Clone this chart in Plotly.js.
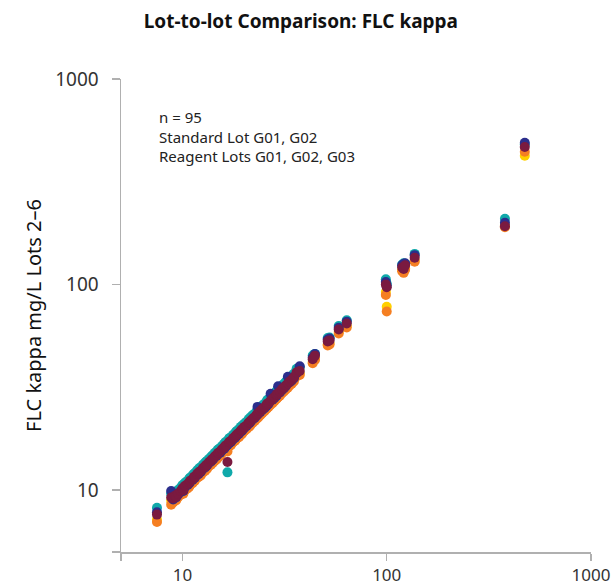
<!DOCTYPE html>
<html>
<head>
<meta charset="utf-8">
<script src="https://cdn.plot.ly/plotly-3.0.1.min.js"></script>
<style>html,body{margin:0;padding:0;background:#fff;}#chart{width:614px;height:586px;}</style>
</head>
<body>
<div id="chart"></div>
<script>
// Standard lot values (x) — FLC kappa mg/L
const standardLot = [
  7.5, 8.8, 9.0, 9.2, 9.3, 9.5, 9.8, 10.0, 10.1, 10.3,
  10.6, 10.8, 10.9, 11.2, 11.4, 11.5, 11.8, 12.0, 12.1, 12.3,
  12.6, 12.9, 13.0, 13.2, 13.5, 13.8, 13.9, 14.1, 14.4, 14.7,
  14.9, 15.0, 15.3, 15.6, 16.0, 16.1, 16.3, 16.6, 16.9, 17.0,
  17.3, 17.7, 18.1, 18.3, 18.5, 18.9, 19.3, 19.5, 19.7, 20.1,
  20.6, 21.1, 21.3, 21.6, 22.1, 22.6, 23.1, 23.3, 23.6, 24.1,
  24.6, 25.2, 25.8, 26.0, 26.4, 27.0, 27.6, 28.2, 28.8, 29.0,
  29.4, 30.0, 30.7, 31.4, 32.1, 32.8, 33.5, 34.3, 35.1, 36.2,
  37.5, 43.4, 44.5, 51.4, 52.5, 58.2, 63.7, 99, 100, 119,
  121, 123, 137, 379, 474
];

const lot2 = [ // yellow
  7.2, 8.9, 8.8, 9.1, 9.0, 9.3, 9.6, 9.9, 9.7, 10.2,
  10.4, 10.6, 10.8, 11.0, 11.3, 11.3, 11.6, 11.7, 11.9, 12.0,
  12.4, 12.6, 12.8, 12.9, 13.3, 13.5, 13.7, 13.8, 14.2, 14.4,
  14.6, 14.7, 14.9, 15.3, 15.6, 15.8, 16.0, 16.0, 16.6, 16.7,
  16.9, 17.4, 17.7, 17.9, 18.1, 18.4, 18.9, 19.0, 19.3, 19.7,
  20.1, 20.7, 20.8, 21.1, 21.6, 22.0, 22.6, 22.8, 23.1, 23.6,
  24.1, 24.5, 25.2, 25.5, 25.8, 26.4, 27.0, 27.5, 28.1, 28.4,
  28.7, 29.3, 30.1, 30.7, 31.4, 32.0, 32.8, 33.5, 34.3, 36.3,
  36.9, 42.0, 43.6, 51.3, 51.9, 58.7, 62.8, 92, 78, 118,
  116, 120, 131, 194, 423
];

const lot3 = [ // orange
  7.0, 8.5, 8.7, 9.0, 8.9, 9.2, 9.5, 9.7, 9.6, 10.0,
  10.2, 10.4, 10.6, 10.8, 11.1, 11.1, 11.5, 11.6, 11.7, 11.8,
  12.2, 12.4, 12.6, 12.7, 13.1, 13.3, 13.5, 13.6, 13.9, 14.1,
  14.4, 14.5, 14.7, 15.1, 15.4, 15.6, 15.8, 15.4, 16.3, 16.4,
  16.6, 17.1, 17.4, 17.7, 17.9, 18.1, 18.6, 18.7, 19.0, 19.4,
  19.8, 20.3, 20.4, 20.8, 21.3, 21.7, 22.3, 22.4, 22.7, 23.2,
  23.7, 24.2, 24.8, 25.1, 25.4, 26.0, 26.5, 27.1, 27.7, 28.0,
  28.3, 28.8, 29.6, 30.2, 30.9, 31.5, 32.3, 32.9, 33.8, 35.7,
  36.3, 41.4, 43.0, 50.5, 51.1, 57.8, 61.8, 89, 74, 116,
  114, 118, 129, 190, 443
];

const lot4 = [ // teal
  8.2, 9.6, 9.5, 9.8, 9.7, 10.0, 10.3, 10.6, 10.4, 10.9,
  11.1, 11.4, 11.5, 11.8, 12.0, 12.1, 12.5, 12.6, 12.8, 12.9,
  13.3, 13.6, 13.7, 13.9, 14.2, 14.5, 14.6, 14.8, 15.2, 15.4,
  15.7, 15.8, 16.0, 16.4, 16.8, 16.9, 17.2, 12.2, 17.8, 17.9,
  18.1, 18.6, 18.9, 19.3, 19.4, 19.8, 20.3, 20.4, 20.7, 21.1,
  21.5, 22.2, 22.2, 22.7, 23.2, 23.6, 24.2, 24.5, 24.8, 25.3,
  25.8, 26.3, 27.0, 27.4, 27.7, 28.3, 28.9, 29.5, 30.2, 30.5,
  30.8, 31.4, 32.2, 32.9, 33.7, 34.3, 35.2, 35.9, 36.8, 38.9,
  39.6, 45.2, 46.0, 54.9, 55.3, 62.8, 67.0, 106, 101, 125,
  127, 126, 141, 209, 480
];

const lot5 = [ // dark blue
  7.8, 9.9, 9.0, 9.3, 9.2, 9.5, 9.8, 10.1, 9.9, 10.4,
  10.6, 10.8, 11.0, 11.2, 11.5, 11.5, 11.9, 12.0, 12.2, 12.3,
  12.7, 12.9, 13.1, 13.2, 13.6, 13.8, 14.0, 14.1, 14.5, 14.7,
  15.0, 15.1, 15.2, 15.6, 15.9, 16.1, 16.3, 16.6, 16.9, 17.0,
  17.2, 17.7, 18.0, 18.3, 18.5, 18.8, 19.3, 19.4, 19.7, 20.1,
  20.5, 21.1, 21.2, 21.6, 22.1, 22.5, 23.1, 25.4, 23.6, 24.1,
  24.6, 25.0, 25.7, 26.0, 26.3, 29.4, 27.5, 28.1, 28.7, 29.0,
  32.0, 29.9, 30.7, 31.3, 32.1, 35.6, 33.5, 34.2, 35.0, 37.0,
  40.0, 44.2, 45.9, 54.0, 54.6, 61.7, 66.0, 103, 99, 124,
  126, 127, 139, 200, 489
];

const lot6 = [ // maroon
  7.6, 9.2, 9.1, 9.4, 9.3, 9.6, 9.9, 10.2, 10.0, 10.5,
  10.7, 10.9, 11.1, 11.3, 11.6, 11.6, 12.0, 12.1, 12.3, 12.4,
  12.8, 13.0, 13.2, 13.3, 13.7, 13.9, 14.1, 14.2, 14.6, 14.8,
  15.1, 15.2, 15.4, 15.8, 16.1, 16.3, 16.5, 13.7, 17.1, 17.2,
  17.4, 17.9, 18.2, 18.5, 18.7, 19.0, 19.5, 19.6, 19.9, 20.3,
  20.7, 21.3, 21.4, 21.8, 22.3, 22.7, 23.3, 23.5, 23.8, 24.3,
  24.8, 25.3, 26.0, 26.3, 26.6, 27.2, 27.8, 28.4, 29.0, 29.3,
  29.6, 30.2, 31.0, 31.6, 32.4, 33.0, 33.8, 34.5, 35.4, 37.4,
  38.0, 43.3, 45.0, 52.9, 53.5, 60.5, 64.7, 100, 97, 121,
  119, 124, 135, 192, 467
];

const seriesNames = ['Lot 2', 'Lot 3', 'Lot 4', 'Lot 5', 'Lot 6'];
const seriesValues = [lot2, lot3, lot4, lot5, lot6];
const seriesColors = ['#FFD000', '#F57F22', '#10A9AA', '#2B2E8C', '#7A1A40'];

const tickVals = [5, 10, 100, 1000];
const tickText = ['', '10', '100', '1000'];

const traces = seriesNames.map((name, i) => ({
  type: 'scatter',
  mode: 'markers',
  name: name,
  x: standardLot,
  y: seriesValues[i],
  marker: {color: seriesColors[i], size: 10, line: {width: 0}},
  hoverinfo: 'x+y+name'
}));

const FONT = '"Noto Sans", "Open Sans", sans-serif';

const layout = {
  width: 614,
  height: 586,
  margin: {l: 121, r: 23, t: 79, b: 34, pad: 0},
  paper_bgcolor: '#ffffff',
  plot_bgcolor: '#ffffff',
  showlegend: false,
  font: {family: FONT, color: '#333333'},
  title: {
    text: '<b>Lot-to-lot Comparison: FLC kappa</b>',
    font: {family: FONT, size: 19, color: '#111111'},
    x: 0.49, xref: 'container', xanchor: 'center',
    y: 0.963, yref: 'container', yanchor: 'middle'
  },
  xaxis: {
    type: 'log',
    range: [Math.log10(5), 3],
    tickmode: 'array',
    tickvals: tickVals,
    ticktext: tickText,
    ticks: 'outside',
    ticklen: 7,
    tickwidth: 1.5,
    tickcolor: '#b0b0b0',
    showline: true,
    linecolor: '#b0b0b0',
    linewidth: 1.5,
    showgrid: false,
    zeroline: false,
    tickfont: {family: FONT, size: 17, color: '#333333'},
    ticklabelstandoff: 0
  },
  yaxis: {
    type: 'log',
    range: [Math.log10(5), 3],
    tickmode: 'array',
    tickvals: tickVals,
    ticktext: tickText,
    ticks: 'outside',
    ticklen: 8,
    tickwidth: 1.5,
    tickcolor: '#b0b0b0',
    showline: true,
    linecolor: '#b0b0b0',
    linewidth: 1.5,
    showgrid: false,
    zeroline: false,
    tickfont: {family: FONT, size: 19, color: '#333333'},
    ticklabelstandoff: 9,
    title: {
      text: 'FLC kappa mg/L Lots 2–6',
      font: {family: FONT, size: 20, color: '#111111'},
      standoff: 8
    }
  },
  annotations: [{
    xref: 'paper', yref: 'paper',
    x: 0.077, y: 0.945,
    xanchor: 'left', yanchor: 'top',
    align: 'left',
    showarrow: false,
    text: 'n = 95<br>Standard Lot G01, G02<br>Reagent Lots G01, G02, G03',
    font: {family: FONT, size: 15, color: '#222222'}
  }]
};

Plotly.newPlot('chart', traces, layout, {displayModeBar: false, staticPlot: true});
</script>
</body>
</html>
